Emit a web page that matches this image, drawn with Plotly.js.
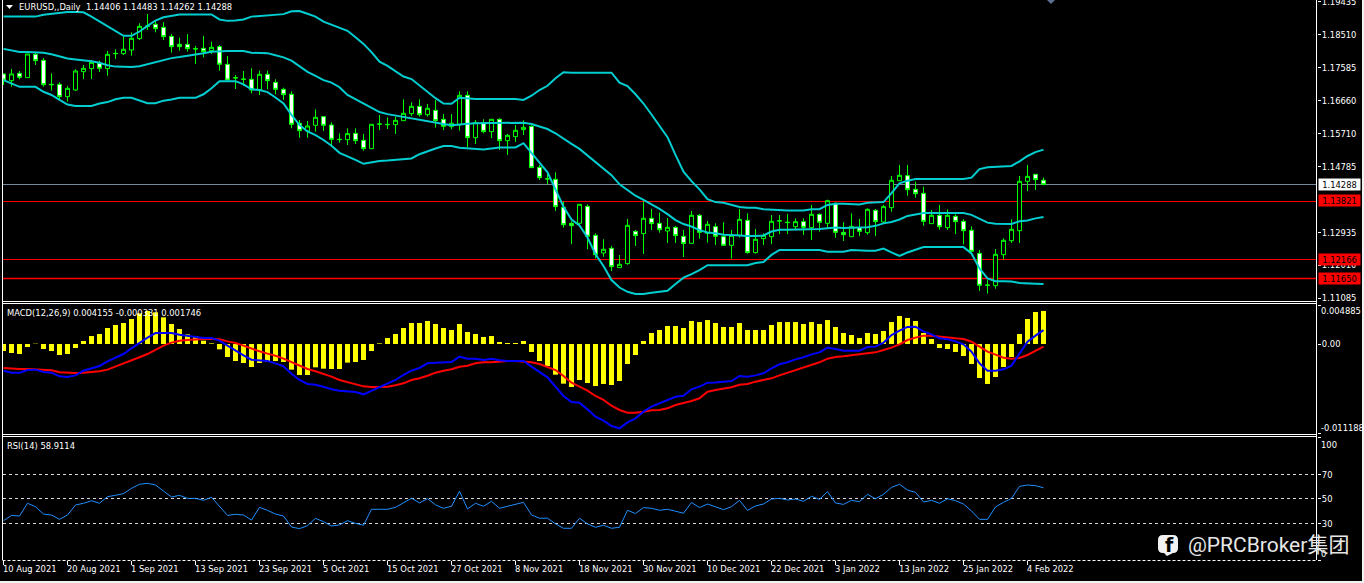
<!DOCTYPE html>
<html>
<head>
<meta charset="utf-8">
<script src="https://cdn.plot.ly/plotly-3.0.1.min.js"></script>
<style>html,body{margin:0;padding:0;background:#000;overflow:hidden}#chart{width:1364px;height:583px}</style>
</head>
<body>
<div id="chart"></div>
<script>
const dateLabels = ["10 Aug 2021","20 Aug 2021","1 Sep 2021","13 Sep 2021","23 Sep 2021","5 Oct 2021","15 Oct 2021","27 Oct 2021","8 Nov 2021","18 Nov 2021","30 Nov 2021","10 Dec 2021","22 Dec 2021","3 Jan 2022","13 Jan 2022","25 Jan 2022","4 Feb 2022"];
const barsPerLabel = 8;

const open = [1.17402,1.17214,1.17421,1.17299,1.17957,1.17788,1.17111,1.17111,1.16763,1.16951,1.17468,1.17553,1.17703,1.17553,1.17985,1.17976,1.18079,1.18399,1.18746,1.18803,1.18718,1.18464,1.18239,1.18239,1.18117,1.18126,1.1806,1.18173,1.17675,1.17299,1.17261,1.17252,1.16951,1.17393,1.17167,1.1697,1.16829,1.16011,1.15795,1.15955,1.16199,1.15964,1.1556,
1.1555,1.15729,1.15532,1.15297,1.15983,1.15983,1.15973,1.16086,1.16284,1.1649,1.16255,1.16378,1.16124,1.15917,1.15964,1.16801,1.15607,1.1603,1.15776,1.16124,1.15522,1.15635,1.15832,1.15926,1.1477,1.14451,1.14432,1.13642,1.13191,1.13191,1.1367,1.12853,1.12354,1.12486,1.11941,1.12054,1.12965,1.129,1.13332,1.13191,1.12975,1.13078,
1.12824,1.12627,1.13417,1.12909,1.13097,1.12815,1.12571,1.12853,1.13276,1.12364,1.12759,1.12815,1.13266,1.1321,1.13097,1.13238,1.13069,1.13445,1.13191,1.13755,1.12937,1.12815,1.13069,1.12928,1.13558,1.13229,1.13633,1.14394,1.14535,1.1415,1.14037,1.13182,1.13417,1.13069,1.13388,1.13247,1.12994,1.12345,1.11452,1.11433,1.12307,1.12702,1.12984,1.14375,1.14573,1.14406];
const high = [1.17421,1.17543,1.17487,1.17966,1.18032,1.17853,1.17421,1.17167,1.17064,1.17534,1.17656,1.17797,1.17778,1.18051,1.18098,1.18455,1.18577,1.18831,1.19094,1.18925,1.18859,1.1853,1.18427,1.1853,1.18192,1.18474,1.18314,1.1822,1.1791,1.17374,1.17487,1.17562,1.17496,1.17496,1.17252,1.17017,1.16913,1.16105,1.16077,1.16406,1.16218,1.16039,1.15729,
1.1587,1.1587,1.1571,1.15983,1.16246,1.1618,1.16199,1.16688,1.16603,1.16688,1.16556,1.16669,1.16274,1.16274,1.16913,1.16913,1.16105,1.16124,1.16124,1.16152,1.1571,1.15964,1.16096,1.15955,1.14836,1.14582,1.14629,1.13802,1.13247,1.13727,1.13727,1.12909,1.1274,1.12552,1.12298,1.13313,1.13003,1.13802,1.13595,1.13492,1.13341,1.13116,
1.13003,1.13539,1.13454,1.13257,1.13191,1.13219,1.13003,1.13595,1.13473,1.13031,1.12909,1.13426,1.13426,1.13454,1.13332,1.13332,1.13708,1.13473,1.13858,1.13774,1.13219,1.13473,1.13313,1.13614,1.13595,1.13708,1.14526,1.14836,1.14836,1.14366,1.14225,1.13567,1.13708,1.13586,1.13445,1.13304,1.13106,1.12439,1.11602,1.12467,1.12768,1.13304,1.14526,1.14836,1.14573,1.14483];
const low = [1.17092,1.17045,1.17252,1.17299,1.17656,1.17045,1.16932,1.16697,1.16622,1.16923,1.17261,1.17261,1.17459,1.17355,1.17825,1.17938,1.17919,1.18361,1.18643,1.18577,1.18361,1.18004,1.1806,1.18032,1.17684,1.17872,1.17966,1.17496,1.17233,1.16979,1.17064,1.16857,1.1681,1.1697,1.16829,1.16669,1.1587,1.15607,1.15607,1.15776,1.15795,1.15353,1.15466,
1.154,1.15428,1.1524,1.15297,1.15823,1.15851,1.1571,1.16086,1.16218,1.16199,1.16199,1.15889,1.15823,1.15842,1.15804,1.15334,1.15428,1.15729,1.15597,1.15259,1.15118,1.15485,1.15682,1.14761,1.14413,1.14291,1.13539,1.13069,1.12608,1.13125,1.12458,1.12204,1.12251,1.11847,1.11941,1.12025,1.12552,1.12326,1.13003,1.12928,1.12636,1.12636,
1.12242,1.12618,1.12759,1.12646,1.1258,1.12552,1.12195,1.12787,1.12336,1.12336,1.1258,1.12608,1.1289,1.1289,1.13031,1.12862,1.12721,1.12956,1.1305,1.12787,1.12693,1.12815,1.12834,1.12871,1.12834,1.13191,1.1352,1.14394,1.13971,1.13915,1.13125,1.13182,1.13012,1.13003,1.1289,1.12599,1.12401,1.11283,1.11208,1.11349,1.12176,1.12636,1.12636,1.14103,1.14131,1.14262];
const close = [1.17233,1.17402,1.17308,1.17966,1.17778,1.17101,1.17101,1.16763,1.16998,1.17487,1.17562,1.17731,1.17562,1.17957,1.17976,1.18098,1.18408,1.18746,1.18756,1.18681,1.18455,1.18173,1.18173,1.18117,1.18108,1.18032,1.18154,1.17675,1.17233,1.1729,1.17252,1.16951,1.17393,1.17214,1.1697,1.16819,1.15983,1.15804,1.15936,1.1618,1.15955,1.1556,1.15551,
1.1572,1.15522,1.15297,1.15983,1.15992,1.15974,1.16096,1.16293,1.1649,1.16255,1.16434,1.16086,1.15926,1.16011,1.16801,1.15607,1.16039,1.15776,1.16124,1.15522,1.15673,1.15814,1.15898,1.14761,1.14479,1.14442,1.13661,1.13153,1.13125,1.13727,1.12824,1.12307,1.12458,1.11969,1.12035,1.13135,1.12843,1.13332,1.13182,1.13012,1.13078,1.12843,
1.12618,1.13417,1.12937,1.13163,1.12824,1.12571,1.12853,1.13304,1.12364,1.1274,1.12853,1.13247,1.13257,1.13219,1.13238,1.13078,1.13445,1.13219,1.1383,1.12937,1.12871,1.13106,1.12965,1.13586,1.13238,1.13661,1.14404,1.14545,1.1414,1.14028,1.13247,1.13417,1.13097,1.13417,1.13238,1.12984,1.12401,1.11443,1.11443,1.12317,1.12712,1.13022,1.14375,1.14516,1.14422,1.14288];

const bbUpper = [1.1902,1.1902,1.1902,1.1902,1.1902,1.1907,1.1910,1.1914,1.1915,1.1915,1.1914,1.1902,1.1888,1.1874,1.1860,1.1848,1.1848,1.1860,1.1876,1.1891,1.1900,1.1905,1.1908,1.1908,1.1908,1.1908,1.1908,1.1894,1.1890,1.1891,1.1894,1.1902,1.1904,1.1907,1.1908,1.1909,1.1917,1.1918,1.1910,1.1902,1.1888,1.1880,1.1872,
1.1862,1.1844,1.1825,1.1802,1.1775,1.1763,1.1749,1.1733,1.1726,1.1708,1.1691,1.1672,1.1657,1.1656,1.1673,1.1671,1.1670,1.1670,1.1670,1.1670,1.1672,1.1670,1.1667,1.1679,1.1695,1.1707,1.1728,1.1745,1.1744,1.1744,1.1744,1.1746,1.1745,1.1744,1.1716,1.1706,1.1683,1.1657,1.1626,1.1595,1.1562,1.1512,
1.1465,1.1438,1.1415,1.1387,1.1379,1.1377,1.1371,1.1365,1.1363,1.1363,1.1359,1.1357,1.1355,1.1355,1.1355,1.1355,1.1359,1.1359,1.1371,1.1374,1.1374,1.1372,1.1372,1.1377,1.1378,1.1379,1.1404,1.1432,1.1439,1.1444,1.1444,1.1444,1.1444,1.1444,1.1444,1.1444,1.1448,1.1472,1.1477,1.1479,1.1481,1.1481,1.1494,1.1509,1.1520,1.1527];
const bbMiddle = [1.1811,1.1806,1.1802,1.1802,1.1801,1.1800,1.1796,1.1790,1.1784,1.1781,1.1779,1.1776,1.1772,1.1765,1.1761,1.1760,1.1760,1.1762,1.1768,1.1774,1.1779,1.1785,1.1788,1.1791,1.1794,1.1799,1.1803,1.1805,1.1805,1.1805,1.1805,1.1800,1.1800,1.1799,1.1793,1.1787,1.1778,1.1761,1.1746,1.1735,1.1723,1.1716,1.1703,
1.1681,1.1669,1.1655,1.1643,1.1633,1.1627,1.1623,1.1618,1.1614,1.1611,1.1605,1.1602,1.1599,1.1596,1.1599,1.1600,1.1601,1.1601,1.1601,1.1602,1.1603,1.1603,1.1603,1.1599,1.1593,1.1585,1.1573,1.1557,1.1543,1.1529,1.1510,1.1491,1.1474,1.1455,1.1429,1.1413,1.1397,1.1385,1.1373,1.1360,1.1345,1.1328,
1.1317,1.1310,1.1300,1.1293,1.1291,1.1287,1.1286,1.1284,1.1283,1.1283,1.1285,1.1296,1.1301,1.1301,1.1301,1.1301,1.1302,1.1303,1.1305,1.1307,1.1306,1.1306,1.1306,1.1308,1.1312,1.1319,1.1323,1.1330,1.1340,1.1345,1.1348,1.1348,1.1348,1.1348,1.1348,1.1348,1.1343,1.1333,1.1321,1.1318,1.1317,1.1317,1.1325,1.1327,1.1333,1.1337];
const bbLower = [1.1723,1.1714,1.1704,1.1704,1.1704,1.1690,1.1681,1.1667,1.1654,1.1650,1.1650,1.1650,1.1657,1.1661,1.1669,1.1673,1.1673,1.1665,1.1658,1.1658,1.1665,1.1668,1.1673,1.1673,1.1673,1.1683,1.1700,1.1720,1.1721,1.1720,1.1711,1.1697,1.1695,1.1689,1.1674,1.1657,1.1625,1.1596,1.1578,1.1568,1.1554,1.1538,1.1518,
1.1509,1.1498,1.1487,1.1492,1.1495,1.1496,1.1498,1.1501,1.1502,1.1514,1.1523,1.1530,1.1537,1.1537,1.1532,1.1530,1.1530,1.1527,1.1530,1.1533,1.1533,1.1533,1.1545,1.1517,1.1488,1.1463,1.1415,1.1366,1.1330,1.1313,1.1279,1.1232,1.1199,1.1159,1.1138,1.1126,1.1120,1.1120,1.1123,1.1126,1.1129,1.1148,
1.1166,1.1176,1.1187,1.1201,1.1201,1.1201,1.1201,1.1201,1.1201,1.1207,1.1210,1.1230,1.1244,1.1244,1.1244,1.1244,1.1244,1.1244,1.1239,1.1238,1.1239,1.1244,1.1242,1.1242,1.1242,1.1248,1.1237,1.1227,1.1237,1.1245,1.1252,1.1252,1.1252,1.1252,1.1252,1.1252,1.1234,1.1192,1.1164,1.1156,1.1156,1.1155,1.1151,1.1151,1.1149,1.1148];

const macdHist = [-0.00088,-0.00113,-0.00126,-0.00038,0.00004,-0.00063,-0.00088,-0.00138,-0.00126,-0.0005,0.00038,0.001,0.00126,0.00201,0.00239,0.00264,0.00314,0.00385,0.00415,0.00398,0.00335,0.00251,0.00188,0.00121,0.001,0.00042,0.00008,-0.00067,-0.00163,-0.00214,-0.00239,-0.00289,-0.00239,-0.00226,-0.00214,-0.00226,-0.00322,-0.00389,-0.00389,-0.00293,-0.0031,-0.00314,-0.00314,
-0.00234,-0.00226,-0.00201,-0.00088,0.00008,0.00075,0.00126,0.00201,0.00264,0.00264,0.00289,0.00251,0.00201,0.00176,0.00251,0.00151,0.00126,0.00088,0.001,0.00025,0.00013,0.00013,0.00038,-0.001,-0.00214,-0.00276,-0.00385,-0.00498,-0.0054,-0.00452,-0.0049,-0.00528,-0.00502,-0.00515,-0.00465,-0.00251,-0.00138,0.00038,0.00138,0.00176,0.00226,0.00226,0.00201,0.00289,0.00276,
0.00301,0.00264,0.00214,0.00214,0.00264,0.00176,0.00176,0.00176,0.00239,0.00276,0.00276,0.00276,0.00251,0.00276,0.00251,0.00301,0.00214,0.00138,0.00113,0.00075,0.00138,0.00126,0.00163,0.00276,0.00352,0.00327,0.00289,0.00138,0.00063,-0.0005,-0.00063,-0.001,-0.00151,-0.00251,-0.00427,-0.00502,-0.00415,-0.00289,-0.00163,0.00126,0.00314,0.00402,0.004155];
const macdBlue = [-0.00335,-0.0036,-0.0036,-0.00327,-0.00322,-0.00352,-0.0036,-0.00406,-0.00415,-0.00394,-0.00335,-0.00301,-0.00276,-0.00218,-0.00172,-0.00126,-0.00054,0.00017,0.0008,0.00138,0.00142,0.00138,0.00117,0.001,0.00088,0.00075,0.00075,0.00042,-0.00021,-0.00084,-0.00142,-0.00197,-0.00201,-0.00214,-0.00243,-0.00281,-0.00373,-0.00452,-0.00502,-0.00511,-0.00536,-0.00569,-0.00586,
-0.00595,-0.00603,-0.00632,-0.00586,-0.0054,-0.00494,-0.00452,-0.00389,-0.00335,-0.00301,-0.00243,-0.00234,-0.00234,-0.00226,-0.00159,-0.00184,-0.00184,-0.00201,-0.00184,-0.00205,-0.00214,-0.00214,-0.00214,-0.00285,-0.00348,-0.00419,-0.00536,-0.00653,-0.00729,-0.00737,-0.00821,-0.00913,-0.00963,-0.0103,-0.01059,-0.00984,-0.00934,-0.0085,-0.00787,-0.00745,-0.00695,-0.00662,-0.00649,-0.00569,-0.00536,
-0.00486,-0.00482,-0.00473,-0.00465,-0.00402,-0.0041,-0.00394,-0.00368,-0.00306,-0.00255,-0.0023,-0.00193,-0.00167,-0.0013,-0.00105,-0.00046,-0.00063,-0.00084,-0.00084,-0.00084,-0.00038,-0.00033,0.00017,0.00113,0.00167,0.00214,0.00218,0.00159,0.00121,0.00071,0.00059,0.00033,-0.00004,-0.00096,-0.00243,-0.00335,-0.00335,-0.00318,-0.00272,-0.00117,0.00029,0.00105,0.001746];
const macdRed = [-0.00301,-0.0031,-0.00314,-0.00314,-0.00318,-0.00322,-0.00331,-0.00356,-0.00364,-0.00364,-0.0036,-0.00352,-0.00343,-0.00322,-0.00285,-0.00251,-0.00205,-0.00167,-0.00126,-0.00075,-0.00021,0.00017,0.00042,0.0005,0.00059,0.00063,0.00063,0.00059,0.00033,0.00013,-0.00021,-0.00059,-0.00092,-0.00121,-0.00147,-0.00184,-0.00226,-0.00272,-0.00314,-0.00343,-0.00373,-0.0041,-0.00452,
-0.00477,-0.00502,-0.00532,-0.0054,-0.0054,-0.00536,-0.00519,-0.00494,-0.00452,-0.00431,-0.00398,-0.0036,-0.00335,-0.00318,-0.00285,-0.00272,-0.00243,-0.0023,-0.0023,-0.00218,-0.00214,-0.00214,-0.00222,-0.0023,-0.00251,-0.00285,-0.00327,-0.00402,-0.00486,-0.00536,-0.00586,-0.00653,-0.00703,-0.00775,-0.00829,-0.00863,-0.00863,-0.0085,-0.00833,-0.00829,-0.00808,-0.00766,-0.00745,-0.00716,-0.00682,
-0.00599,-0.00578,-0.00561,-0.00544,-0.00511,-0.00502,-0.00473,-0.00452,-0.00431,-0.00394,-0.0036,-0.00331,-0.00293,-0.00264,-0.0023,-0.00184,-0.00163,-0.00155,-0.00142,-0.00126,-0.00109,-0.00105,-0.00075,-0.00046,-0.00004,0.0005,0.0008,0.00105,0.00105,0.00092,0.0008,0.00071,0.00063,0.00029,-0.00033,-0.00096,-0.00134,-0.00172,-0.00184,-0.00176,-0.00138,-0.00088,-0.000331];

const rsi = [32.1,36.4,35.9,46.3,43.5,37.5,36.7,33.2,36.7,44.9,46.3,48.4,46.3,51.7,52.8,54.2,58.5,61.8,62.6,61.2,56.3,51.4,52.8,50.3,50.3,48.7,51.2,43.5,36.4,37.3,36.7,32.6,43.0,40.5,37.5,35.9,26.9,25.6,28.0,34.0,31.3,27.8,28.6,32.1,29.9,
28.4,41.4,41.4,41.4,43.0,46.9,50.4,46.6,50.1,45.0,42.2,43.9,56.1,41.7,46.3,43.9,47.9,42.2,43.9,46.0,47.1,36.8,34.1,34.1,29.5,25.9,25.9,34.1,29.5,26.7,28.4,25.9,26.7,40.6,37.9,42.8,42.2,40.6,41.4,39.8,38.2,46.9,42.8,
45.7,43.3,41.1,43.5,48.7,40.5,44.1,45.7,49.8,50.3,49.0,49.8,47.9,52.0,49.5,55.8,46.5,45.4,48.7,47.6,53.6,50.0,53.6,59.3,61.8,57.1,55.2,47.3,48.7,46.3,50.0,48.4,45.7,40.0,33.2,33.2,43.3,47.1,50.3,60.1,61.2,60.7,58.9114];

const priceTicks = ["1.19435","1.18510","1.17585","1.16660","1.15710","1.14785","1.12935","1.12010","1.11085"];
const bidLevel = "1.14288";
const redLevels = ["1.13821","1.12166","1.11650"];
const rsiLevels = [70, 50, 30];
const macdTicks = ["0.004885","0.00","-0.011188"];
const headerPrice = "EURUSD,,Daily  1.14406 1.14483 1.14262 1.14288";
const headerMacd = "MACD(12,26,9) 0.004155 -0.000331 0.001746";
const headerRsi = "RSI(14) 58.9114";
const watermark = "@PRCBroker集团";

const W = 1364, H = 583, ML = 3, MR = 47, MB = 23, PH = H - MB, PW = W - ML - MR;
const px = x => (x - ML) / PW;
const py = y => (PH - y) / PH;
const idx = open.map((_, i) => i);
const FONT = "'DejaVu Sans Condensed', 'Liberation Sans', sans-serif";
const FS = 9.3;
const WHITE = "#ffffff";
const priceRange = [1.109722, 1.194886];
const rsiRange = [0, 100.4];
const mainBottom = 302, rsiTop = 437;

const traces = [
  {type:"candlestick", x:idx, open:open, high:high, low:low, close:close, xaxis:"x", yaxis:"y",
   increasing:{line:{color:"#00ff00",width:1}, fillcolor:"#000000"},
   decreasing:{line:{color:"#00ff00",width:1}, fillcolor:"#ffffff"},
   whiskerwidth:0, hoverinfo:"skip"},
  {type:"scatter", mode:"lines", x:idx, y:bbUpper, xaxis:"x", yaxis:"y", line:{color:"#00ced1",width:2}, hoverinfo:"skip"},
  {type:"scatter", mode:"lines", x:idx, y:bbMiddle, xaxis:"x", yaxis:"y", line:{color:"#00ced1",width:2}, hoverinfo:"skip"},
  {type:"scatter", mode:"lines", x:idx, y:bbLower, xaxis:"x", yaxis:"y", line:{color:"#00ced1",width:2}, hoverinfo:"skip"},
  {type:"bar", x:idx, y:macdHist, xaxis:"x", yaxis:"y2", width:0.625, marker:{color:"#ffff00",line:{width:0}}, hoverinfo:"skip"},
  {type:"scatter", mode:"lines", x:idx, y:macdRed, xaxis:"x", yaxis:"y2", line:{color:"#ff0000",width:2}, hoverinfo:"skip"},
  {type:"scatter", mode:"lines", x:idx, y:macdBlue, xaxis:"x", yaxis:"y2", line:{color:"#0000ff",width:2}, hoverinfo:"skip"},
  {type:"scatter", mode:"lines", x:idx, y:rsi, xaxis:"x", yaxis:"y3", line:{color:"#1e90ff",width:1}, hoverinfo:"skip"}
];

// Level lines sit on the pixel row their value falls in, so they stay one pixel sharp.
const priceRow = v => Math.floor(mainBottom * (priceRange[1] - v) / (priceRange[1] - priceRange[0]) + 0.1) + 0.5;
const rsiRow = v => Math.floor(PH - (PH - rsiTop) * v / rsiRange[1]) + 0.5;
const hline = (row, color, width, dash) => ({type:"line", xref:"paper", yref:"paper", x0:0, x1:1, y0:py(row), y1:py(row), layer:"below", line:{color:color,width:width,dash:dash||"solid"}});
const frame = (x0,y0,x1,y1,dash) => ({type:"line", xref:"paper", yref:"paper", x0:px(x0), x1:px(x1), y0:py(y0), y1:py(y1), line:{color:WHITE,width:1,dash:dash||"solid"}});
const fillPath = (color, d) => ({type:"path", xref:"paper", yref:"paper", layer:"above", fillcolor:color, line:{width:0}, path:d});
const shapes = [
  hline(priceRow(+bidLevel),"#778899",1),
  hline(priceRow(+redLevels[0]),"#ff0000",1),
  hline(priceRow(+redLevels[1]),"#ff0000",1),
  hline(priceRow(+redLevels[2]),"#ff0000",1.5),
  ...rsiLevels.map(v => hline(rsiRow(v),"#d8d8d8",1,"3px,3px")),
  frame(2.5,0,2.5,560),
  frame(1316.5,0,1316.5,560),
  frame(2.5,301.5,1316.5,301.5),
  frame(2.5,303.5,1316.5,303.5),
  frame(2.5,434.5,1316.5,434.5),
  frame(2.5,436.5,1316.5,436.5),
  frame(2.5,560.5,1316.5,560.5,"3px,2px"),
  fillPath(WHITE, `M ${px(6)} ${py(5)} L ${px(13)} ${py(5)} L ${px(9.5)} ${py(9)} Z`),
  fillPath("#5f6f8f", `M ${px(1047)} ${py(0)} L ${px(1055)} ${py(0)} L ${px(1051)} ${py(4)} Z`),
  fillPath("#f2f2f2", `M ${px(1163)} ${py(535)} L ${px(1173)} ${py(535)} Q ${px(1178)} ${py(535)} ${px(1178)} ${py(540)} L ${px(1178)} ${py(548)} Q ${px(1178)} ${py(553)} ${px(1173)} ${py(553)} L ${px(1167)} ${py(556)} L ${px(1164)} ${py(553)} L ${px(1163)} ${py(553)} Q ${px(1158)} ${py(553)} ${px(1158)} ${py(548)} L ${px(1158)} ${py(540)} Q ${px(1158)} ${py(535)} ${px(1163)} ${py(535)} Z`),
  {type:"rect", xref:"paper", yref:"paper", x0:px(1362), x1:px(W), y0:py(H), y1:py(0), fillcolor:"#f2f2f2", line:{width:0}},
  {type:"rect", xref:"paper", yref:"paper", x0:px(0), x1:px(W), y0:py(H), y1:py(581), fillcolor:"#f2f2f2", line:{width:0}}
];

const label = (text,x,y,opts) => Object.assign({text:text, xref:"paper", yref:"paper", x:px(x), y:py(y), xanchor:"left", yanchor:"middle", showarrow:false, borderpad:0, font:{family:FONT,size:FS,color:WHITE}}, opts||{});
const box = (text,y,bg) => label(text,1318,y,{bgcolor:bg, width:41, height:11, align:"center", font:{family:FONT,size:FS,color:"#000000"}});

const annotations = [
  label(headerPrice,17.5,6.5),
  label(headerMacd,6,312),
  label(headerRsi,6,445),
  label(macdTicks[0],1320,310.5),
  label(macdTicks[2],1319.5,427),
  label("100",1320,444),
  label("0",1320,553),
  box(bidLevel,184.5,"#ffffff"),
  box(redLevels[0],201,"#ff0000"),
  box(redLevels[1],259,"#ff0000"),
  box(redLevels[2],278,"#ff0000"),
  ...dateLabels.map((t,i) => ({text:t, xref:"x", yref:"paper", x:i*barsPerLabel, xshift:-2, y:py(568), xanchor:"left", yanchor:"middle", showarrow:false, borderpad:0, font:{family:FONT,size:FS,color:WHITE}})),
  label("f",1164,544.5,{font:{family:"DejaVu Sans, sans-serif",size:19,color:"#000000",weight:700}}),
  label(watermark,1187,545,{font:{family:"Roboto, 'Noto Sans CJK SC', sans-serif",size:21,color:"#e6e6e6"}})
];

const rightAxis = {side:"right", showgrid:false, zeroline:false, showline:false, ticks:"outside", ticklen:3, tickwidth:1, tickcolor:WHITE, tickfont:{family:FONT,size:FS,color:WHITE}, ticklabeloverflow:"allow", ticklabelstandoff:-1, fixedrange:true};

const layout = {
  width:W, height:H, margin:{l:ML,r:MR,t:0,b:MB,pad:0},
  paper_bgcolor:"#000000", plot_bgcolor:"#000000", showlegend:false, dragmode:false, boxgap:0.5, boxgroupgap:0, bargap:0.4,
  xaxis:{anchor:"y3", range:[(ML-3.5)/8,(W-MR-3.5)/8], showgrid:false, zeroline:false, showline:false, ticks:"outside", ticklen:4, tickwidth:1, tickcolor:WHITE,
         tickmode:"array", tickvals:dateLabels.map((_,i)=>i*barsPerLabel), showticklabels:false, rangeslider:{visible:false}, fixedrange:true},
  yaxis:Object.assign({}, rightAxis, {domain:[py(mainBottom),1], anchor:"x", range:priceRange, tickmode:"array", tickvals:priceTicks.map(Number), ticktext:priceTicks}),
  yaxis2:Object.assign({}, rightAxis, {domain:[py(434),py(304)], anchor:"x", range:[-0.011304,0.005024], tickmode:"array", tickvals:macdTicks.map(Number), ticktext:["",macdTicks[1],""]}),
  yaxis3:Object.assign({}, rightAxis, {domain:[0,py(rsiTop)], anchor:"x", range:rsiRange, tickmode:"array", tickvals:[100,70,50,30,0], ticktext:["","70","50","30",""]}),
  shapes:shapes, annotations:annotations
};
Plotly.newPlot("chart", traces, layout, {displayModeBar:false, staticPlot:true});
</script>
</body>
</html>
